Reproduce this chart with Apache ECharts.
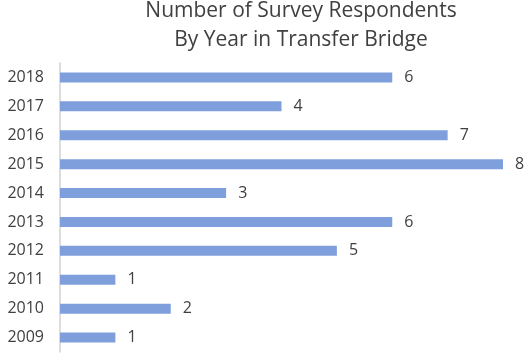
<!DOCTYPE html>
<html><head><meta charset="utf-8">
<script src="https://cdn.jsdelivr.net/npm/echarts@6/dist/echarts.min.js"></script>
<style>html,body{margin:0;padding:0;background:#fff}#c{width:526px;height:354px}</style>
</head><body><div id="c"></div>
<script>
var years = ['2009','2010','2011','2012','2013','2014','2015','2016','2017','2018'];
var respondents = [1,2,1,5,6,3,8,7,4,6];
var titleLines = ['Number of Survey Respondents','By Year in Transfer Bridge'];

var chart = echarts.init(document.getElementById('c'), null, {renderer:'canvas'});
chart.setOption({
  animation:false,
  backgroundColor:'#ffffff',
  graphic:[
    {type:'text', x:301, y:11, style:{text:titleLines[0], fill:'#404040', font:'21px "Open Sans"', textAlign:'center', textVerticalAlign:'middle'}},
    {type:'text', x:301, y:40, style:{text:titleLines[1], fill:'#404040', font:'21px "Open Sans"', textAlign:'center', textVerticalAlign:'middle'}}
  ],
  grid:{left:60, right:23, top:63, bottom:2, containLabel:false},
  xAxis:{type:'value', min:0, max:8, show:false},
  yAxis:{type:'category', data:years,
    axisLine:{show:true, lineStyle:{color:'#d0d0d0', width:1.5}},
    axisTick:{show:false},
    axisLabel:{color:'#404040', fontSize:16, fontFamily:'Open Sans', margin:16}
  },
  series:[{type:'bar', data:respondents, barWidth:10,
    itemStyle:{color:'#7f9fdc'},
    label:{show:true, position:'right', distance:12, color:'#404040', fontSize:16, fontFamily:'Open Sans'}
  }]
});
</script></body></html>
